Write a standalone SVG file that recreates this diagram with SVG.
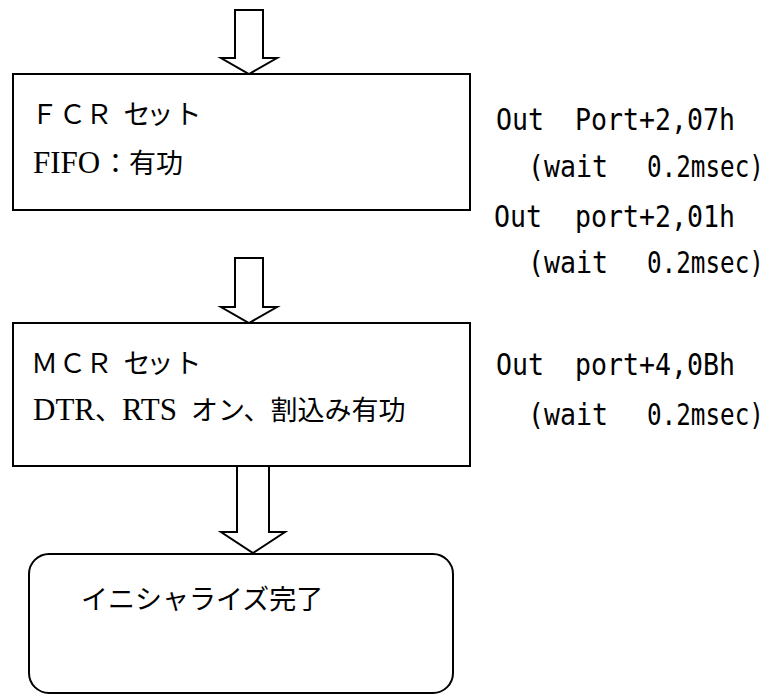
<svg xmlns="http://www.w3.org/2000/svg" width="771" height="695" viewBox="0 0 771 695">
<style>
.box{fill:#fff;stroke:#000;stroke-width:2}
.arr{fill:#fff;stroke:#000;stroke-width:2;stroke-linejoin:miter}
.jp{font-family:"Noto Sans CJK JP","Liberation Sans",sans-serif;font-size:27px;fill:#000}
.lat{font-family:"Liberation Serif","Noto Sans CJK JP",serif;font-size:31px;fill:#000}
.code{font-family:"DejaVu Sans Mono","Liberation Mono",monospace;font-size:30px;fill:#000}
</style>
<rect width="771" height="695" fill="#fff"/>
<g id="connectors">
<path class="arr" d="M235,10 L263,10 L263,58 L277,58 L249,74 L221,58 L235,58 Z"/>
<path class="arr" d="M235,258 L263,258 L263,307 L277,307 L249,323 L221,307 L235,307 Z"/>
<path class="arr" d="M237,466 L269,466 L269,532 L285,532 L253,553 L221,532 L237,532 Z"/>
</g>
<g id="node-fcr">
<rect class="box" x="13" y="74" width="457" height="136"/>
<text class="jp" x="31 59 85.5 123.5 146.5 174.5" y="124">ＦＣＲセット</text>
<text y="173"><tspan class="lat" x="33">FIFO</tspan><tspan class="jp" x="102">：有功</tspan></text>
</g>
<g id="node-mcr">
<rect class="box" x="13" y="323" width="457" height="143"/>
<text class="jp" x="31 59 85.5 123.5 146.5 174.5" y="373">ＭＣＲセット</text>
<text y="420"><tspan class="lat" x="33">DTR</tspan><tspan class="jp" x="95">、</tspan><tspan class="lat" x="122">RTS</tspan><tspan class="jp" x="191">オン、割込み有功</tspan></text>
</g>
<g id="node-done">
<rect class="box" x="29" y="554" width="424" height="139" rx="20" ry="20"/>
<text class="jp" x="81" y="609">イニシャライズ完了</text>
</g>
<g id="notes">
<text class="code" transform="translate(496,130) scale(0.886,1)">Out</text>
<text class="code" transform="translate(575,130) scale(0.886,1)">Port+2,07h</text>
<text class="code" transform="translate(528,177) scale(0.886,1)">(wait</text>
<text class="code" transform="translate(647,177) scale(0.81,1)">0.2msec)</text>
<text class="code" transform="translate(494,227) scale(0.886,1)">Out</text>
<text class="code" transform="translate(575,227) scale(0.886,1)">port+2,01h</text>
<text class="code" transform="translate(528,273) scale(0.886,1)">(wait</text>
<text class="code" transform="translate(647,273) scale(0.81,1)">0.2msec)</text>
<text class="code" transform="translate(496,375) scale(0.886,1)">Out</text>
<text class="code" transform="translate(575,375) scale(0.886,1)">port+4,0Bh</text>
<text class="code" transform="translate(528,425) scale(0.886,1)">(wait</text>
<text class="code" transform="translate(647,425) scale(0.81,1)">0.2msec)</text>
</g>
</svg>
